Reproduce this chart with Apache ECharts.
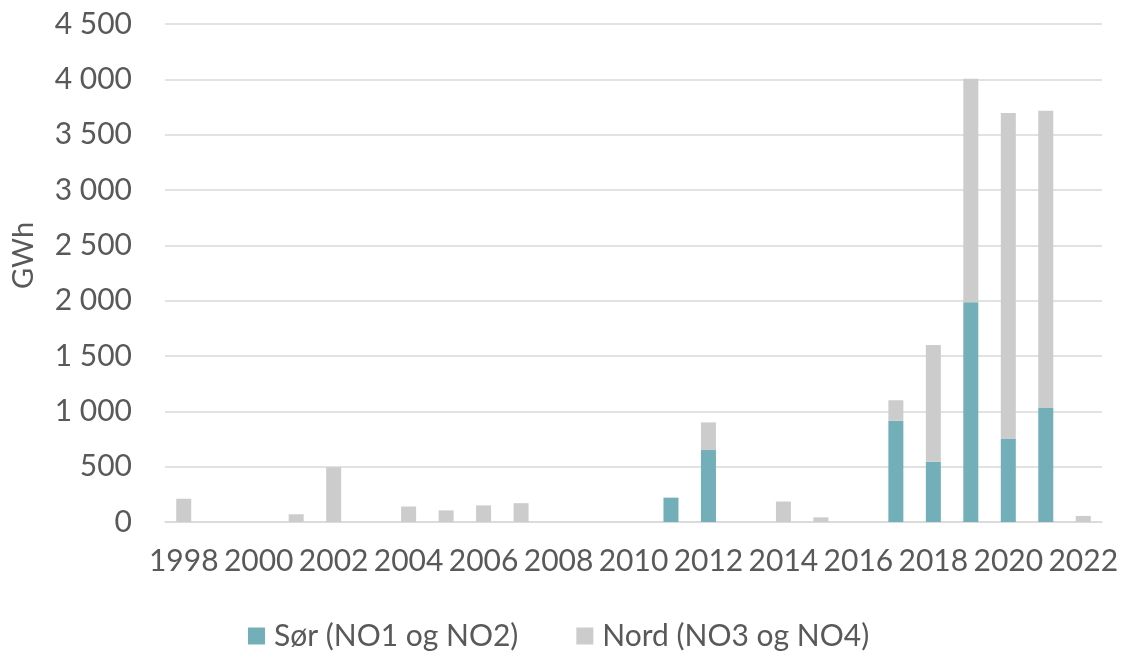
<!DOCTYPE html>
<html>
<head>
<meta charset="utf-8">
<script src="https://cdn.jsdelivr.net/npm/echarts@6/dist/echarts.min.js"></script>
<style>
  html, body { margin: 0; padding: 0; background: #ffffff; }
  #chart { width: 1122px; height: 653px; }
</style>
</head>
<body>
<div id="chart"></div>
<script>
// Years on the category axis
const years = ['1998','1999','2000','2001','2002','2003','2004','2005','2006','2007','2008','2009','2010',
               '2011','2012','2013','2014','2015','2016','2017','2018','2019','2020','2021','2022'];

// GWh per year, southern price areas (NO1 og NO2)
const sorValues = [0,0,0,0,0,0,0,0,0,0,0,0,0,
                   220,650,0,0,0,0,915,545,1985,755,1030,0];

// GWh per year, northern price areas (NO3 og NO4)
const nordValues = [210,0,0,70,495,0,140,105,150,170,0,0,0,
                    0,250,0,185,42,0,185,1055,2020,2940,2685,55];

const seriesNames = ['Sør (NO1 og NO2)', 'Nord (NO3 og NO4)'];

const textColor = '#595959';
const font = 'Lato, "Open Sans", sans-serif';

// Norwegian style thousands separator: "4 500"
function fmt(v) {
  return String(v).replace(/\B(?=(\d{3})+(?!\d))/g, ' ');
}

const chart = echarts.init(document.getElementById('chart'), null, { renderer: 'canvas' });

chart.setOption({
  animation: false,
  backgroundColor: '#ffffff',
  grid: { left: 165, right: 20, top: 24, bottom: 131, containLabel: false, outerBoundsMode: 'none' },
  legend: {
    data: seriesNames,
    left: 243,
    top: 616,
    itemWidth: 17,
    itemHeight: 17,
    itemGap: 58,
    icon: 'rect',
    textStyle: { color: textColor, fontFamily: font, fontSize: 30, padding: [0, 0, 0, 4] }
  },
  xAxis: {
    type: 'category',
    data: years,
    axisLine: { show: true, lineStyle: { color: '#d9d9d9', width: 1.5 } },
    axisTick: { show: false },
    axisLabel: {
      interval: 1,
      margin: 24,
      color: textColor,
      fontFamily: font,
      fontSize: 30
    }
  },
  yAxis: {
    type: 'value',
    min: 0,
    max: 4500,
    interval: 500,
    name: 'GWh',
    nameLocation: 'middle',
    nameGap: 127,
    nameRotate: 90,
    nameTextStyle: { color: textColor, fontFamily: font, fontSize: 29, padding: [0, 0, 0, 35] },
    axisLine: { show: false },
    axisTick: { show: false },
    splitLine: { lineStyle: { color: '#d9d9d9', width: 1.5 } },
    axisLabel: {
      margin: 33,
      color: textColor,
      fontFamily: font,
      fontSize: 30,
      formatter: fmt
    }
  },
  series: [
    {
      name: seriesNames[0],
      type: 'bar',
      stack: 'total',
      data: sorValues,
      barWidth: 15,
      itemStyle: { color: '#72afb9' }
    },
    {
      name: seriesNames[1],
      type: 'bar',
      stack: 'total',
      data: nordValues,
      barWidth: 15,
      itemStyle: { color: '#cccccc' }
    }
  ]
});
</script>
</body>
</html>
